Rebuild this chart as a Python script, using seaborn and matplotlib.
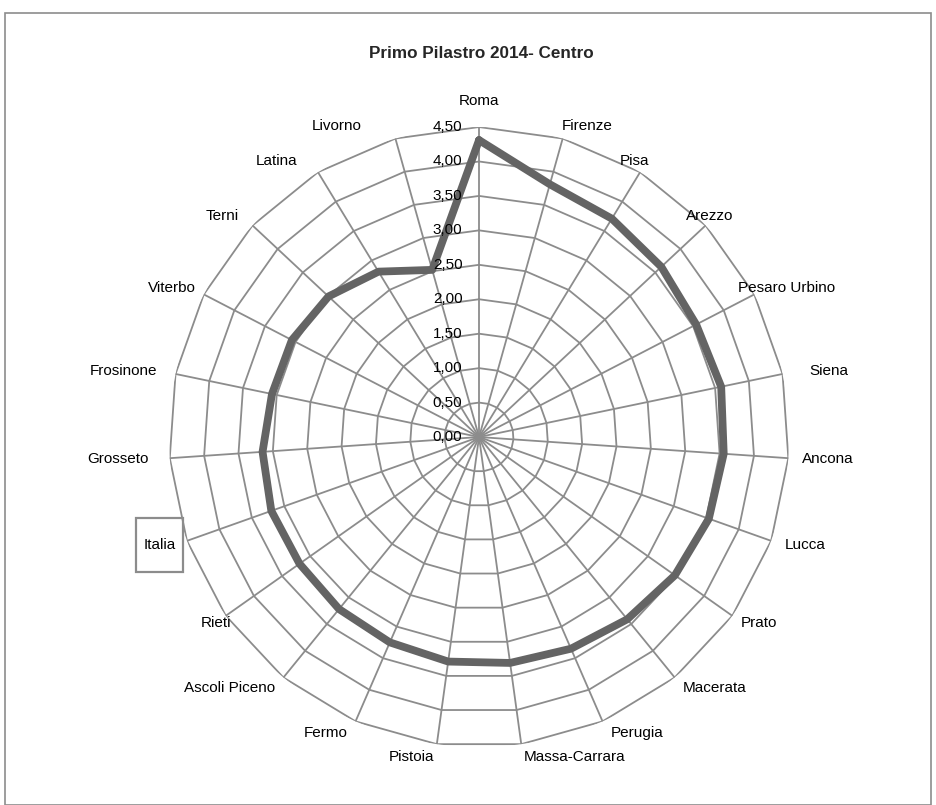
import numpy as np
import pandas as pd
import matplotlib
matplotlib.use("Agg")
import matplotlib.pyplot as plt
from matplotlib.patches import Rectangle
import seaborn as sns

# categories clockwise from the top
province = ["Roma", "Firenze", "Pisa", "Arezzo", "Pesaro Urbino", "Siena", "Ancona",
            "Lucca", "Prato", "Macerata", "Perugia", "Massa-Carrara", "Pistoia",
            "Fermo", "Ascoli Piceno", "Rieti", "Italia", "Grosseto", "Frosinone",
            "Viterbo", "Terni", "Latina", "Livorno"]
valori = [4.31, 3.81, 3.71, 3.62, 3.55, 3.59, 3.56, 3.54, 3.48, 3.41, 3.35, 3.31, 3.29,
          3.25, 3.22, 3.19, 3.20, 3.15, 3.07, 3.06, 2.99, 2.81, 2.52]
ring_ticks = [0.0, 0.5, 1.0, 1.5, 2.0, 2.5, 3.0, 3.5, 4.0, 4.5]
ring_labels = ["0,00", "0,50", "1,00", "1,50", "2,00", "2,50", "3,00", "3,50", "4,00", "4,50"]

# small horizontal nudges (points) so labels sit where the original put them
nudge = {"Firenze": -7, "Pisa": -21, "Arezzo": -20, "Pesaro Urbino": -18, "Siena": 13,
         "Ancona": 4, "Lucca": 4, "Massa-Carrara": -4, "Pistoia": 4, "Rieti": 10,
         "Grosseto": -9, "Frosinone": -7, "Terni": -4, "Latina": -9, "Livorno": -18}

sns.set_style("white")
plt.rcParams['font.family'] = ['Liberation Sans', 'DejaVu Sans']

n = len(province)
angles = np.linspace(0, 2 * np.pi, n, endpoint=False)
ang_closed = np.append(angles, 2 * np.pi)

fig = plt.figure(figsize=(9.36, 8.05), dpi=100)
fig.patches.append(Rectangle((5 / 936, 0.0), 926 / 936, 1 - 13 / 805, transform=fig.transFigure,
                             fill=False, edgecolor='#8c8c8c', linewidth=1.2))
fig.text(481 / 936, 1 - 53 / 805, "Primo Pilastro 2014- Centro", ha='center', va='center',
         fontsize=12.3, fontweight='bold')

ax = fig.add_axes([0.1806, 0.0720, 0.6624, 0.7702], projection='polar')
ax.set_theta_zero_location('N')
ax.set_theta_direction(-1)
ax.set_ylim(0, 4.5)
ax.grid(False)
ax.spines['polar'].set_visible(False)
ax.set_xticks([])
ax.set_yticks([])
ax.patch.set_alpha(0)

grid_col = '#8c8c8c'
# polygon rings
for r in ring_ticks[1:]:
    ax.plot(ang_closed, [r] * (n + 1), color=grid_col, linewidth=1.3, zorder=1)
# spokes
for a in angles:
    ax.plot([a, a], [0, 4.5], color=grid_col, linewidth=1.3, zorder=1)

# data line
df = pd.DataFrame({'angle': ang_closed, 'valore': valori + [valori[0]]})
sns.lineplot(data=df, x='angle', y='valore', sort=False, ax=ax, color='#646464',
             linewidth=5.6, zorder=3)
ax.set_xlabel('')
ax.set_ylabel('')

# value labels along the Roma axis
for r, lab in zip(ring_ticks, ring_labels):
    ax.annotate(lab, xy=(0, r), xytext=(-12, 0), textcoords='offset points',
                ha='right', va='center', fontsize=11, color='black', zorder=4)

# category labels
for a, lab in zip(angles, province):
    s, c = np.sin(a), np.cos(a)
    if abs(s) < 0.05:
        ax.annotate(lab, xy=(a, 4.5), xytext=(0, 19), textcoords='offset points',
                    ha='center', va='center', fontsize=11, color='black')
        continue
    ha = 'left' if s > 0 else 'right'
    dx = (6 if s > 0 else -6) + nudge.get(lab, 0)
    dy = 9.5 * c
    if lab == "Italia":
        # the original frames this label with a tall box
        ax.annotate("\n" + lab + "\n", xy=(a, 4.5), xytext=(-8, dy), textcoords='offset points',
                    ha='right', va='center', fontsize=11, color='black', linespacing=0.85,
                    multialignment='center',
                    bbox=dict(boxstyle='square,pad=0.5', fc='none', ec='#8c8c8c', lw=1.6))
        continue
    ax.annotate(lab, xy=(a, 4.5), xytext=(dx, dy), textcoords='offset points',
                ha=ha, va='center', fontsize=11, color='black')

fig.savefig("out.png", dpi=100)
